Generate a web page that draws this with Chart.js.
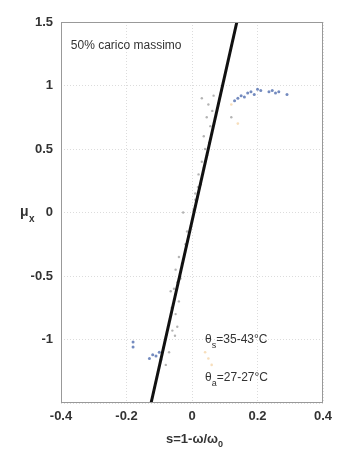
<!DOCTYPE html>
<html>
<head>
<meta charset="utf-8">
<script src="https://cdn.jsdelivr.net/npm/chart.js@4/dist/chart.umd.min.js"></script>
<style>
  html, body { margin: 0; padding: 0; background: #fff; }
  #wrap { width: 349px; height: 450px; }
</style>
</head>
<body>
<div id="wrap"><canvas id="chart" width="349" height="450"></canvas></div>
<script>
// fitted line, s vs mu_x
var lineS = [-0.125, 0.137];
var lineMu = [-1.5, 1.5];

// grey measured points (s, mu)
var greyS = [-0.08, -0.07, -0.052, -0.06, -0.045, -0.05, -0.062, -0.04, -0.055, -0.045, -0.035, -0.05, -0.03, -0.04, -0.02, -0.015, -0.027, 0.005, 0.01, 0.018, 0.027, 0.02, 0.036, 0.03, 0.046, 0.04, 0.052, 0.036, 0.056, 0.045, 0.062, 0.05, 0.03, 0.066, 0.12, 0.01, -0.065];
var greyMu = [-1.2, -1.1, -0.97, -0.93, -0.9, -0.8, -0.75, -0.7, -0.6, -0.55, -0.52, -0.45, -0.4, -0.35, -0.25, -0.15, 0.0, 0.02, 0.1, 0.2, 0.22, 0.3, 0.35, 0.4, 0.45, 0.5, 0.55, 0.6, 0.68, 0.75, 0.8, 0.85, 0.9, 0.92, 0.75, 0.15, -0.62];

// blue points
var blueS = [0.13, 0.14, 0.15, 0.16, 0.17, 0.18, 0.19, 0.2, 0.21, 0.235, 0.245, 0.255, 0.265, 0.29, -0.13, -0.12, -0.11, -0.1, -0.095, -0.18, -0.18];
var blueMu = [0.88, 0.9, 0.92, 0.91, 0.94, 0.95, 0.93, 0.97, 0.96, 0.95, 0.96, 0.94, 0.95, 0.93, -1.15, -1.12, -1.13, -1.1, -1.16, -1.02, -1.06];

// faint orange points
var orangeS = [0.04, 0.05, 0.06, 0.12, 0.14];
var orangeMu = [-1.1, -1.15, -1.2, 0.85, 0.7];

var xTicks = [-0.4, -0.2, 0, 0.2, 0.4];
var yTicks = [-1.5, -1, -0.5, 0, 0.5, 1, 1.5];

function pts(xs, ys) {
  return xs.map(function (x, i) { return { x: x, y: ys[i] }; });
}

var tickFont = { family: 'Liberation Sans, Arial, sans-serif', size: 13, weight: 'bold' };

var labels = {
  id: 'labels',
  afterDraw: function (chart) {
    var c = chart.ctx, xs = chart.scales.x, ys = chart.scales.y;
    c.save();
    c.fillStyle = '#333';
    c.textBaseline = 'middle';
    c.font = '12px Liberation Sans, Arial, sans-serif';
    c.textAlign = 'left';
    c.fillText('50% carico massimo', xs.getPixelForValue(-0.37), ys.getPixelForValue(1.31));

    function theta(sub, txt, sx, my) {
      var px = xs.getPixelForValue(sx), py = ys.getPixelForValue(my);
      c.font = '12px Liberation Sans, Arial, sans-serif';
      c.fillText('θ', px, py);
      var w = c.measureText('θ').width;
      c.font = '9px Liberation Sans, Arial, sans-serif';
      c.fillText(sub, px + w, py + 6);
      var w2 = c.measureText(sub).width;
      c.font = '12px Liberation Sans, Arial, sans-serif';
      c.fillText(txt, px + w + w2, py);
    }
    theta('s', '=35-43°C', 0.04, -1.0);
    theta('a', '=27-27°C', 0.04, -1.3);

    // y title, horizontal
    c.font = 'bold 14px Liberation Sans, Arial, sans-serif';
    c.textAlign = 'left';
    c.fillText('μ', 20, 212);
    c.font = 'bold 10px Liberation Sans, Arial, sans-serif';
    c.fillText('x', 29, 219);

    // x title
    c.font = 'bold 13px Liberation Sans, Arial, sans-serif';
    var base = 's=1-ω/ω';
    var w = c.measureText(base).width;
    var x0 = 192 - w / 2;
    c.fillText(base, x0, 439);
    c.font = 'bold 9px Liberation Sans, Arial, sans-serif';
    c.fillText('0', x0 + w, 445);
    c.restore();
  }
};

new Chart(document.getElementById('chart'), {
  type: 'scatter',
  data: {
    datasets: [
      {
        label: 'fit',
        type: 'line',
        data: pts(lineS, lineMu),
        borderColor: '#111',
        borderWidth: 3,
        pointRadius: 0,
        fill: false,
        order: 0
      },
      {
        label: 'grey',
        data: pts(greyS, greyMu),
        backgroundColor: 'rgba(130,130,130,0.6)',
        borderWidth: 0,
        pointRadius: 1.2,
        order: 1
      },
      {
        label: 'blue',
        data: pts(blueS, blueMu),
        backgroundColor: 'rgba(70,100,170,0.75)',
        borderWidth: 0,
        pointRadius: 1.5,
        order: 1
      },
      {
        label: 'orange',
        data: pts(orangeS, orangeMu),
        backgroundColor: 'rgba(240,190,120,0.5)',
        borderWidth: 0,
        pointRadius: 1.3,
        order: 2
      }
    ]
  },
  options: {
    responsive: false,
    animation: false,
    layout: { padding: { left: 0, right: 26, top: 22, bottom: 0 } },
    plugins: { legend: { display: false }, tooltip: { enabled: false } },
    scales: {
      x: {
        type: 'linear',
        min: -0.4,
        max: 0.4,
        afterBuildTicks: function (s) { s.ticks = xTicks.map(function (v) { return { value: v }; }); },
        afterFit: function (s) { s.height = 47; },
        ticks: {
          color: '#333',
          font: tickFont,
          padding: 6,
          callback: function (v) { return String(v); }
        },
        grid: { color: '#dcdcdc', drawTicks: false, lineWidth: 1 },
        border: { display: false, dash: [1, 2] }
      },
      y: {
        type: 'linear',
        min: -1.5,
        max: 1.5,
        afterBuildTicks: function (s) { s.ticks = yTicks.map(function (v) { return { value: v }; }); },
        afterFit: function (s) { s.width = 61; },
        ticks: {
          color: '#333',
          font: tickFont,
          padding: 8,
          callback: function (v) { return v === -1.5 ? '' : String(v); }
        },
        grid: { color: '#dcdcdc', drawTicks: false, lineWidth: 1 },
        border: { display: false, dash: [1, 2] }
      }
    }
  },
  plugins: [labels, {
    id: 'frame',
    afterDraw: function (chart) {
      var a = chart.chartArea, c = chart.ctx;
      c.save();
      c.strokeStyle = '#999';
      c.lineWidth = 1;
      c.strokeRect(a.left + 0.5, a.top + 0.5, a.right - a.left - 1, a.bottom - a.top - 1);
      c.restore();
    }
  }]
});
</script>
</body>
</html>
